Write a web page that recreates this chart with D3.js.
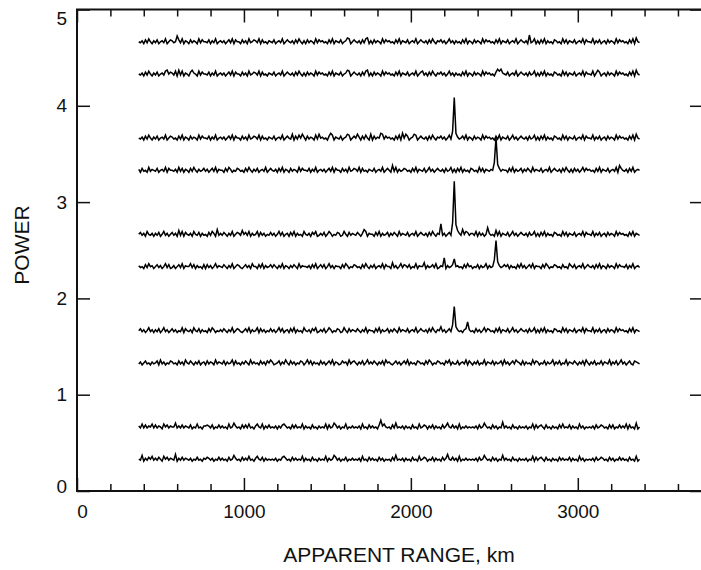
<!DOCTYPE html>
<html>
<head>
<meta charset="utf-8">
<script src="https://cdn.jsdelivr.net/npm/d3@7"></script>
<style>
  body { margin: 0; background: #fff; }
  svg text { font-family: "Liberation Sans", Arial, sans-serif; fill: #111; }
</style>
</head>
<body>
<svg id="chart" width="701" height="570"></svg>
<script>
// ---- data ----
// each trace: floor level (power units) + noise samples, one char per 10 km,
// base-36 digit = height above the floor in hundredths of a power unit
const traceStartKm = 370;
const traceEndKm = 3370;

const traceFloors = [0.31, 0.645, 1.31, 1.645, 2.31, 2.645, 3.31, 3.645, 4.31, 4.645];

const trace0 = "2160314251 3142052413 2170314132 1302141203 2431302141 3120412631 2041315120 3521403121 2130214531 2041312150 3120412031 2150312641 3021402131 2130512041 3120413021 2041612130 3120412051 2430214031 2041372141 3050213121 2130412631 2041302161 3120412031 2130215041 3420412031 2041312140 3120513021 2130412431 2041302141 3120412050 2";
const trace1 = "3151413251 4132052413 2261314132 1402151203 3431402141 3120512631 2041415120 3521503141 2130314531 2041412150 3120412031 2150412641 3021502131 2130512041 3120493521 2041612130 3120412051 2430314031 2041362141 3050213121 2130412631 2041302171 3120412031 2130215041 3420412031 2041512140 3120513021 2130412431 2041402141 3150412060 2";
const trace2 = "1302412031 2405130214 3120413052 1420314023 0413205132 1403125041 2031420513 1204130425 3012403152 0413021430 2514031204 1302415032 0142305134 2031402513 1420314052 3102413024 1503120431 2041530214 3120425031 1402315042 0314021503 2140312405 1302415320 4031205143 0214031250 3140215032 1420314052 0314021403 2150314025 1302410432 1";
const trace3 = "2413025130 3140251302 4130215042 1305214031 2041530213 1420315024 3102415031 2504130214 1302514023 0415031205 2130425013 1402530214 3015204132 1420315032 2041503124 0314205132 1402315024 2130415203 2613024180 6312034b31 2041302514 3120415032 1402513024 2130412503 0415031204 3120514032 1402315042 2150314023 0413205142 3120415032 1";
const trace4 = "3120415230 2413025140 1302415032 2514031204 0413025132 1420315024 3102413052 2041503124 1420315032 0314205132 2130415024 1402513032 2041530214 3120415203 1402315042 2061302514 3140215032 2603124150 132b03124a 2312041523 0214031250 3129073124 2403120415 1302415032 2041530214 3120412053 1402315024 2130415032 0413205142 2140315023 1";
const trace5 = "2413052130 3140251302 4130615042 1305214031 2041530713 1420315024 3162415031 2504130214 1302514023 0415031205 2130425013 1402530214 3015204132 1420375032 2041503124 0314205132 1402315024 2130415203 2d130241e0 c631725413 3150413029 3120615032 1402513024 2130412503 0415031204 3120514032 1402315042 2150314023 0413205142 3120415032 1";
const trace6 = "3041205132 1402315042 2130514032 0415203124 1302415032 2041530214 3120415203 1402315024 2130415032 0413205142 2140315023 1302415042 2041305124 3150412032 1402315024 2071503124 3120415032 1402513024 2130412503 0415031204 3120514032 132a084132 2041503124 0314205132 1402315024 2130415203 0413025142 3120415032 1402315074 2130415023 2";
const trace7 = "2130415203 1402315024 3120415032 0413205142 2140315023 1302415042 2041305124 3150412032 1402315024 2160415263 0413205162 3120475032 1402365024 2630415206 0413276142 3120415072 6402365024 2130415203 2413025190 7312415032 0413205142 3120415032 1402513024 2130412503 0415031204 3120514032 1402315042 2150314023 0413205142 3120415062 1";
const trace8 = "2130415203 1402315624 3150615032 0463205142 2140315023 1302415042 2041305124 3150412032 1402315024 2130415203 0413205142 3120415032 1402365024 2130415603 0413205142 3120415032 1402315024 5130415203 2413025130 3120415032 0413205142 3120475732 1402315024 2130412503 0415031204 3120514032 1402315042 2150364023 0413205142 3120415062 1";
const trace9 = "2130415203 1402315024 3128415032 0413205142 2140315023 1302415042 2041305124 3150412032 1402315024 2130415203 0413205142 3120415032 1402365024 2130415603 0413205142 3120415032 1402315024 2130415203 2413025130 3120415032 0413205142 3120415032 1402315024 2130912503 0415031204 3120514032 1402315042 2150314023 0413205142 3120415062 1";

const traceNoise = [trace0, trace1, trace2, trace3, trace4, trace5, trace6, trace7, trace8, trace9];

// tall echoes: [trace index, range km, height above floor in hundredths]
const spikes = [
  [3, 2260, 27],
  [4, 2510, 29],
  [5, 2260, 57],
  [6, 2510, 36],
  [7, 2260, 44]
];

const xMajorTicks = [0, 1000, 2000, 3000];
const xMinorTicks = [200, 400, 600, 800, 1200, 1400, 1600, 1800, 2200, 2400, 2600, 2800, 3200, 3400, 3600];
const yTicks = [0, 1, 2, 3, 4, 5];

// ---- layout ----
const plotLeft = 77, plotRight = 703, plotTop = 9.5, plotBottom = 491;

const svg = d3.select("#chart");

const x = d3.scaleLinear().domain([0, 3750]).range([plotLeft, plotRight]);
const y = d3.scaleLinear().domain([0, 5]).range([plotBottom, plotTop]);

function buildTrace(str, idx) {
  let chars = str.replace(/ /g, "").split("");
  let step = (traceEndKm - traceStartKm) / (chars.length - 1);
  let pts = chars.map((c, i) => ({km: traceStartKm + i * step, h: parseInt(c, 36)}));
  spikes.filter(s => s[0] === idx).forEach(s => {
    let nearest = d3.least(pts, p => Math.abs(p.km - s[1]));
    nearest.h = s[2];
  });
  return pts.map(p => ({km: p.km, power: traceFloors[idx] + p.h / 100}));
}

const traces = traceNoise.map(buildTrace);

const line = d3.line()
  .x(d => x(d.km))
  .y(d => y(d.power));

svg.append("g")
  .selectAll("path")
  .data(traces)
  .join("path")
  .attr("d", line)
  .attr("fill", "none")
  .attr("stroke", "#000")
  .attr("stroke-width", 1.5)
  .attr("stroke-linejoin", "miter");

// ---- axes (ticks point inward on all four sides) ----
const fmt = d3.format("d");

function styleAxis(g) {
  g.select(".domain").remove();
  g.selectAll(".tick line").attr("stroke", "#111").attr("stroke-width", 1.5);
  g.selectAll("text").attr("font-size", 19).attr("fill", "#111")
    .attr("font-family", "Liberation Sans, Arial, sans-serif");
}

// bottom
svg.append("g")
  .attr("transform", "translate(0," + plotBottom + ")")
  .call(d3.axisBottom(x).tickValues(xMajorTicks).tickFormat(fmt).tickSizeInner(-13).tickSizeOuter(0).tickPadding(14))
  .call(styleAxis)
  .call(g => g.selectAll("text").attr("x", d => d === 0 ? 5 : 0));

svg.append("g")
  .attr("transform", "translate(0," + plotBottom + ")")
  .call(d3.axisBottom(x).tickValues(xMinorTicks).tickSizeInner(-7).tickSizeOuter(0).tickFormat(""))
  .call(styleAxis);

// top
svg.append("g")
  .attr("transform", "translate(0," + plotTop + ")")
  .call(d3.axisTop(x).tickValues(xMajorTicks).tickSizeInner(-13).tickSizeOuter(0).tickFormat(""))
  .call(styleAxis);

svg.append("g")
  .attr("transform", "translate(0," + plotTop + ")")
  .call(d3.axisTop(x).tickValues(xMinorTicks).tickSizeInner(-7).tickSizeOuter(0).tickFormat(""))
  .call(styleAxis);

// left
svg.append("g")
  .attr("transform", "translate(" + plotLeft + ",0)")
  .call(d3.axisLeft(y).tickValues(yTicks).tickFormat(fmt).tickSizeInner(-13).tickSizeOuter(0).tickPadding(10))
  .call(styleAxis)
  .call(g => g.selectAll("text").attr("y", d => d === 5 ? 9 : d === 0 ? -5 : 0));

// right
svg.append("g")
  .attr("transform", "translate(" + plotRight + ",0)")
  .call(d3.axisRight(y).tickValues(yTicks).tickSizeInner(-13).tickSizeOuter(0).tickFormat(""))
  .call(styleAxis);

// frame
svg.append("rect")
  .attr("x", plotLeft)
  .attr("y", plotTop)
  .attr("width", plotRight - plotLeft)
  .attr("height", plotBottom - plotTop)
  .attr("fill", "none")
  .attr("stroke", "#111")
  .attr("stroke-width", 2);

// ---- titles ----
svg.append("text")
  .attr("x", 399)
  .attr("y", 562)
  .attr("text-anchor", "middle")
  .attr("font-size", 21)
  .text("APPARENT RANGE, km");

svg.append("text")
  .attr("transform", "translate(29,245) rotate(-90)")
  .attr("text-anchor", "middle")
  .attr("font-size", 21)
  .text("POWER");
</script>
</body>
</html>
